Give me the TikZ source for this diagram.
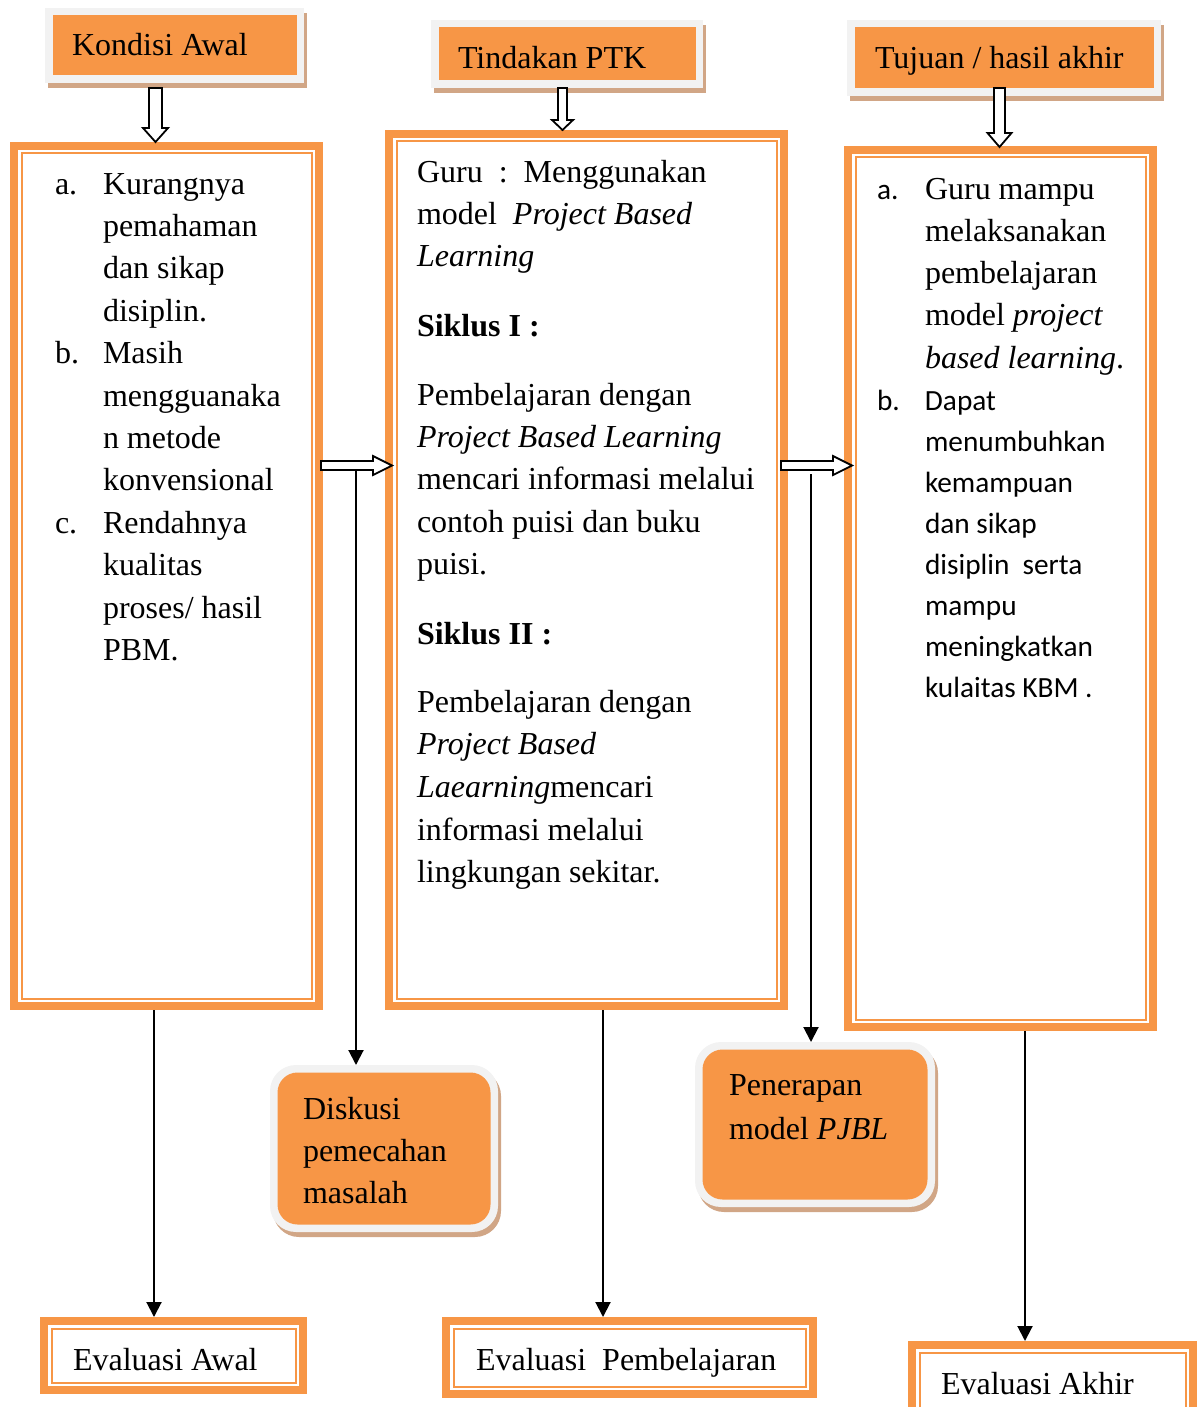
\documentclass[tikz,border=0pt]{standalone}
\usepackage{fontspec}
\setmainfont{Liberation Serif}
\newfontfamily\calibri{Carlito}
\usetikzlibrary{arrows.meta,calc}
\definecolor{orng}{RGB}{247,150,70}
\definecolor{frm}{RGB}{242,242,242}
\definecolor{shd}{RGB}{209,166,134}
\newcommand\lbl[1]{\makebox[48pt][l]{#1}}
\newcommand\tp{\rule{0pt}{30pt}}
% header box: name, grey frame x1,y1,x2,y2
\newcommand\headbox[5]{%
  \fill[shd] (#2+3,#3+5) rectangle (#4+3,#5+5);
  \fill[frm] (#2,#3) rectangle (#4,#5);
  \node[fill=orng, inner sep=0pt, outer sep=0pt, minimum width={(#4-#2-15)*1pt},
        minimum height={(#5-#3-15)*1pt}, anchor=north west] (#1) at (#2+7.5,#3+7.5) {};
}
% double orange framed box: name, outer x1,y1,x2,y2
\newcommand\dbox[5]{%
  \node[draw=orng, line width=8pt, inner sep=0pt, outer sep=4pt, minimum width={(#4-#2-8)*1pt},
        minimum height={(#5-#3-8)*1pt}, anchor=north west] (#1) at (#2,#3) {};
  \draw[orng, line width=2pt] (#2+11.5,#3+11.5) rectangle (#4-11.5,#5-11.5);
}
% rounded box: name, grey frame x1,y1,x2,y2
\newcommand\rbox[5]{%
  \fill[shd, rounded corners=26pt] (#2+3,#3+5) rectangle (#4+3,#5+5);
  \node[fill=frm, rounded corners=26pt, inner sep=0pt, outer sep=0pt, minimum width={(#4-#2)*1pt},
        minimum height={(#5-#3)*1pt}, anchor=north west] (#1) at (#2,#3) {};
  \fill[orng, rounded corners=20pt] (#2+7.5,#3+7.5) rectangle (#4-7.5,#5-7.5);
}
% hollow down arrow: cx, ytop, yhead, ytip, shaft half, head half
\newcommand\downarr[6]{%
  \draw[hollow] (#1-#5,#2) -- (#1-#5,#3) -- (#1-#6,#3) -- (#1,#4) -- (#1+#6,#3)
     -- (#1+#5,#3) -- (#1+#5,#2) -- cycle;}
% hollow right arrow: xstart, xhead, xtip, cy, shaft half, head half
\newcommand\rightarr[6]{%
  \draw[hollow] (#1,#4-#5) -- (#2,#4-#5) -- (#2,#4-#6) -- (#3,#4) -- (#2,#4+#6)
     -- (#2,#4+#5) -- (#1,#4+#5) -- cycle;}

\begin{document}
\begin{tikzpicture}[x=1pt,y=-1pt,
  txt/.style={inner sep=0pt, outer sep=0pt, anchor=north west, align=left,
              font=\fontsize{32}{42.4}\selectfont},
  lab/.style={inner sep=0pt, outer sep=0pt, anchor=base west, font=\fontsize{32}{42.4}\selectfont},
  conn/.style={line width=2pt, -{Triangle[length=15pt,width=15pt]}},
  hollow/.style={draw=black, fill=white, line width=1.8pt, line join=miter},
]
\useasboundingbox (0,0) rectangle (1203,1407);

% headers
\headbox{H1}{45}{8}{304}{83}
\headbox{H2}{431}{20}{703}{88}
\headbox{H3}{847}{20}{1161}{96}
\node[lab] (H1t) at (72,56) {Kondisi Awal};
\node[lab] (H2t) at (458,69) {Tindakan PTK};
\node[lab] (H3t) at (875,69) {Tujuan / hasil akhir};

% main boxes
\dbox{LB}{10}{142}{323}{1010}
\dbox{MB}{385}{130}{788}{1010}
\dbox{RB}{844}{146}{1157}{1031}

% bottom boxes
\dbox{EA}{40}{1317}{307}{1394}
\dbox{EP}{442}{1317}{817}{1398}
\dbox{EK}{908}{1341}{1197}{1421}
\node[lab] (EAt) at (73,1370) {Evaluasi Awal};
\node[lab] (EPt) at (476,1370) {Evaluasi\ \ Pembelajaran};
\node[lab] (EKt) at (941,1394) {Evaluasi Akhir};

% rounded boxes
\rbox{D}{270}{1065}{498}{1232}
\rbox{P}{695}{1042}{935}{1207}
\node[txt] (Dt) at (303,1089) {\tp Diskusi\\ pemecahan\\ masalah};
\node[txt, font=\fontsize{32}{44.5}\selectfont] (Pt) at (729,1065) {\tp Penerapan\\ model \textit{PJBL}};

% left box text
\node[txt] (LBt) at (55,164) {\tp\lbl{a.}Kurangnya\\ \lbl{}pemahaman\\ \lbl{}dan sikap\\ \lbl{}disiplin.\\
  \lbl{b.}Masih\\ \lbl{}mengguanaka\\ \lbl{}n metode\\ \lbl{}konvensional\\
  \lbl{c.}Rendahnya\\ \lbl{}kualitas\\ \lbl{}proses/ hasil\\ \lbl{}PBM.};

% middle box text
\node[txt] (mA) at (417,152) {\tp Guru\ \ :\ \ Menggunakan\\ model\ \ \textit{Project Based}\\ \textit{Learning}};
\node[lab, font=\fontsize{32}{42.4}\selectfont\bfseries] (mS1) at (417,336) {Siklus I :};
\node[txt] (mB) at (417,375) {\tp Pembelajaran dengan\\ \textit{Project Based Learning}\\ mencari informasi melalui\\ contoh puisi dan buku\\ puisi.};
\node[lab, font=\fontsize{32}{42.4}\selectfont\bfseries] (mS2) at (417,644) {Siklus II :};
\node[txt, font=\fontsize{32}{42.7}\selectfont] (mC) at (417,682) {\tp Pembelajaran dengan\\ \textit{Project Based}\\ \textit{Laearning}mencari\\ informasi melalui\\ lingkungan sekitar.};

% right box text
\node[txt, font=\fontsize{32}{42.3}\selectfont] (rA) at (877,169) {\tp\lbl{\calibri\fontsize{29.3}{42.3}\selectfont a.}Guru mampu\\ \lbl{}melaksanakan\\ \lbl{}pembelajaran\\ \lbl{}model \textit{project}\\ \lbl{}\textit{based learning}.};
\node[txt, font=\calibri\fontsize{29.3}{41.1}\selectfont] (rB) at (877,380) {\tp\lbl{b.}Dapat\\ \lbl{}menumbuhkan\\ \lbl{}kemampuan\\ \lbl{}dan sikap\\ \lbl{}disiplin\ \ serta\\ \lbl{}mampu\\ \lbl{}meningkatkan\\ \lbl{}kulaitas KBM .};

% connectors
\coordinate (v1) at (356,470);
\coordinate (v2) at (811,474);
\draw[conn] (v1) -- (v1 |- D.north);
\draw[conn] (v2) -- (v2 |- P.north);
\coordinate (c1) at (154,1010);
\coordinate (c2) at (603,1010);
\coordinate (c3) at (1025,1031);
\draw[conn] (c1) -- (c1 |- EA.north);
\draw[conn] (c2) -- (c2 |- EP.north);
\draw[conn] (c3) -- (c3 |- EK.north);

% hollow block arrows
\downarr{155.5}{88}{128}{142}{6.5}{12.5}
\downarr{562.5}{88}{120}{130}{4.5}{10.5}
\downarr{999.5}{88}{133}{147}{5.5}{12}
\rightarr{321}{373}{392}{465.5}{4.5}{9.5}
\rightarr{781}{833}{852}{465.5}{4.5}{9.5}
\end{tikzpicture}
\end{document}
